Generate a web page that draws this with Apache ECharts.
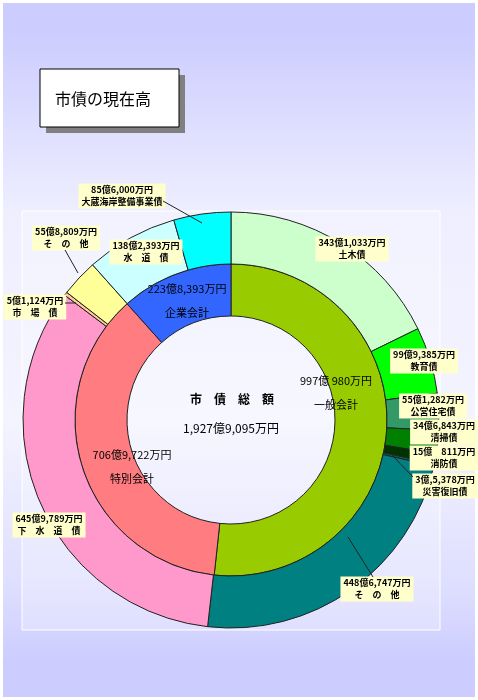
<!DOCTYPE html>
<html>
<head>
<meta charset="utf-8">
<script src="https://cdn.jsdelivr.net/npm/echarts@6/dist/echarts.min.js"></script>
<style>
html, body { margin: 0; padding: 0; background: #fff; }
#main { width: 478px; height: 700px; }
</style>
</head>
<body>
<div id="main"></div>
<script>
// 会計別（内側）
var groupNames = ['一般会計', '特別会計', '企業会計'];
var groupTexts = ['997億 980万円', '706億9,722万円', '223億8,393万円'];
var groupValues = [997.0980, 706.9722, 223.8393]; // 億円
var groupColors = ['#99CC00', '#FF7C80', '#3366FF'];

// 債別（外側）
var itemNames = ['土木債', '教育債', '公営住宅債', '清掃債', '消防債', '災害復旧債',
    'そ　の　他', '下　水　道　債', '市　場　債', 'そ　の　他', '水　道　債', '大蔵海岸整備事業債'];
var itemTexts = ['343億1,033万円', '99億9,385万円', '55億1,282万円', '34億6,843万円', '15億　811万円', '3億,5,378万円',
    '448億6,747万円', '645億9,789万円', '5億1,124万円', '55億8,809万円', '138億2,393万円', '85億6,000万円'];
var itemValues = [343.1033, 99.9385, 55.1282, 34.6843, 15.0811, 3.5378,
    448.6747, 645.9789, 5.1124, 55.8809, 138.2393, 85.6000]; // 億円
var itemColors = ['#CCFFCC', '#00FF00', '#339966', '#008000', '#003300', '#006666',
    '#008080', '#FF99CC', '#FFCC99', '#FFFF99', '#CCFFFF', '#00FFFF'];

var totalTitle = '市　債　総　額';
var totalText = '1,927億9,095万円';

// ラベル位置（px）
var itemLabelPos = [[352, 249], [424, 361], [433, 406], [444, 432], [444, 458], [445, 486],
    [377, 589], [49, 525], [35, 307], [66, 238], [146, 252], [122, 196]];
var groupLabelPos = [[336, 393], [132, 467], [187, 301]];
// 引出線（ラベル側 → 扇形側）
var leaderLines = [
    [413, 477, 392, 455],
    [373, 577, 348, 537],
    [65, 303, 76, 303],
    [65, 250, 78, 273],
    [163, 201, 202, 223]
];

var FONT = '"Noto Sans CJK JP", sans-serif';

var myChart = echarts.init(document.getElementById('main'));

var innerData = groupNames.map(function (n, i) {
    return { name: n, value: groupValues[i], itemStyle: { color: groupColors[i] } };
});
var outerData = itemNames.map(function (n, i) {
    return { name: n, value: itemValues[i], itemStyle: { color: itemColors[i] } };
});

var graphics = [
    { type: 'rect', z: -20, shape: { x: 0, y: 0, width: 478, height: 700 }, style: { fill: '#fff' } },
    {
        type: 'rect', z: -19, shape: { x: 3, y: 3, width: 472, height: 694 },
        style: {
            fill: new echarts.graphic.LinearGradient(0, 0, 0, 1, [
                { offset: 0, color: '#CCCCFF' },
                { offset: 0.04, color: '#CCCCFF' },
                { offset: 0.3, color: '#EEEEFF' },
                { offset: 0.6, color: '#F4F4FF' },
                { offset: 0.85, color: '#DDDDFF' },
                { offset: 0.95, color: '#CCCCFF' },
                { offset: 1, color: '#CCCCFF' }
            ])
        }
    },
    {
        type: 'rect', z: -18, shape: { x: 22, y: 211, width: 418, height: 419 },
        style: { fill: 'rgba(255,255,255,0.25)', stroke: '#FFFFFF', lineWidth: 1 }
    },
    { type: 'rect', z: -17, shape: { x: 46, y: 75, width: 139, height: 58 }, style: { fill: '#808080' } },
    {
        type: 'rect', z: -16, shape: { x: 40, y: 69, width: 139, height: 58 },
        style: { fill: '#FFFFFF', stroke: '#000', lineWidth: 1 }
    },
    {
        type: 'text', z: 10, x: 55, y: 99,
        style: { text: '市債の現在高', font: '16px ' + FONT, fill: '#000', verticalAlign: 'middle' }
    },
    {
        type: 'text', z: 10, x: 232, y: 399,
        style: { text: totalTitle, font: 'bold 12px ' + FONT, fill: '#000', align: 'center', verticalAlign: 'middle' }
    },
    {
        type: 'text', z: 10, x: 231, y: 428,
        style: { text: totalText, font: '12px ' + FONT, fill: '#000', align: 'center', verticalAlign: 'middle' }
    }
];
leaderLines.forEach(function (l) {
    graphics.push({
        type: 'line', z: 10,
        shape: { x1: l[0], y1: l[1], x2: l[2], y2: l[3] },
        style: { stroke: '#222', lineWidth: 1 }
    });
});

option = {
    animation: false,
    graphic: graphics,
    series: [
        {
            name: '会計',
            type: 'pie',
            center: [231, 420],
            radius: [104, 156],
            startAngle: 90,
            clockwise: true,
            avoidLabelOverlap: false,
            itemStyle: { borderColor: '#222', borderWidth: 1 },
            label: {
                show: true,
                position: 'inside',
                color: '#000',
                fontFamily: FONT,
                fontSize: 11,
                lineHeight: 24,
                formatter: function (p) {
                    return groupTexts[p.dataIndex] + '\n' + p.name;
                }
            },
            labelLine: { show: false },
            labelLayout: function (params) {
                var pos = groupLabelPos[params.dataIndex];
                return { x: pos[0], y: pos[1], align: 'center', verticalAlign: 'middle' };
            },
            emphasis: { disabled: true },
            data: innerData
        },
        {
            name: '市債',
            type: 'pie',
            center: [231, 420],
            radius: [156, 208],
            startAngle: 90,
            clockwise: true,
            avoidLabelOverlap: false,
            itemStyle: { borderColor: '#222', borderWidth: 1 },
            label: {
                show: true,
                position: 'inside',
                color: '#000',
                fontFamily: FONT,
                fontSize: 9,
                fontWeight: 'bold',
                lineHeight: 12,
                align: 'center',
                backgroundColor: '#FFFFCC',
                padding: [1, 3, 0, 3],
                formatter: function (p) {
                    return itemTexts[p.dataIndex] + '\n' + p.name;
                }
            },
            labelLine: { show: false },
            labelLayout: function (params) {
                var pos = itemLabelPos[params.dataIndex];
                return { x: pos[0], y: pos[1], align: 'center', verticalAlign: 'middle' };
            },
            emphasis: { disabled: true },
            data: outerData
        }
    ]
};

myChart.setOption(option);
</script>
</body>
</html>
